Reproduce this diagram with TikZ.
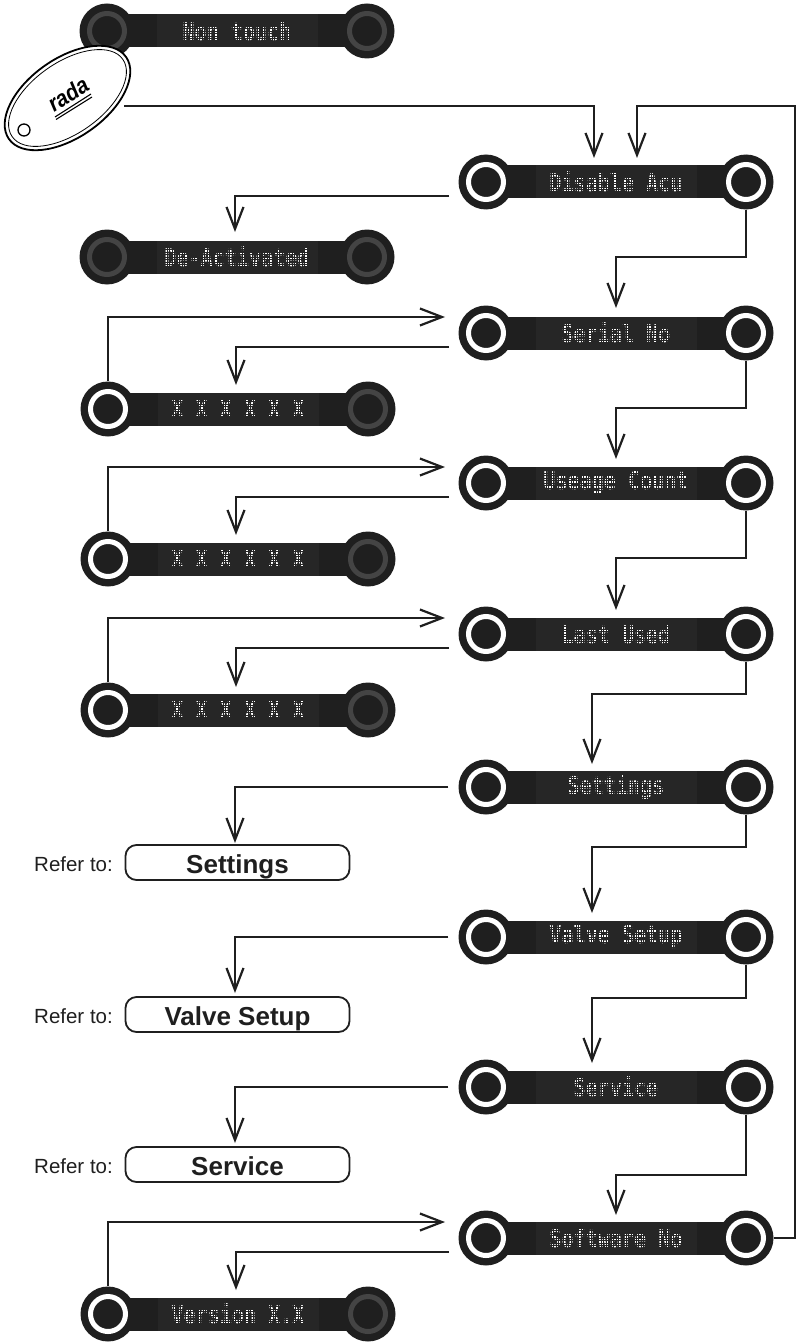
\documentclass[tikz,border=0pt]{standalone}
\usepackage{fontspec}
\setmainfont{Liberation Sans}
\newfontfamily\lcd[FakeStretch=0.82]{DejaVu Sans Mono}
\usetikzlibrary{arrows.meta,shapes.geometric}
\definecolor{dk}{HTML}{1F1F1F}
\definecolor{pn}{HTML}{262626}
\definecolor{off}{HTML}{444444}
\tikzset{
 conn/.style={draw=dk,line width=2.2pt,-{Straight Barb[length=22pt,width=17pt,line width=2.2pt]}},
 hub/.style={circle,fill=dk,minimum size=55pt,inner sep=0pt},
 ringon/.style={circle,fill=dk,draw=white,line width=5pt,minimum size=35pt,inner sep=0pt},
 ringoff/.style={circle,fill=dk,draw=off,line width=5pt,minimum size=35pt,inner sep=0pt},
 panel/.style={fill=pn,minimum width=161pt,minimum height=33pt,inner sep=0pt},
 lcdtext/.style={text=white,font=\lcd\bfseries\fontsize{24.5}{25}\selectfont,inner sep=0pt},
 refbox/.style={draw=dk,line width=1.8pt,rounded corners=11pt,minimum width=224pt,minimum height=35pt,inner sep=0pt},
 reftext/.style={font=\bfseries\fontsize{26}{26}\selectfont,text=dk,inner sep=0pt,anchor=base},
 reflabel/.style={font=\fontsize{20.5}{22}\selectfont,text=dk,anchor=west,inner sep=0pt},
}
% \disp{name}{left hub x}{y}{text}{left ring}{right ring}
\newcommand{\disp}[6]{%
 \fill[dk] (#2,#3-16.5) rectangle (#2+260,#3+16.5);
 \node[hub] (#1-l) at (#2,#3) {};
 \node[hub] (#1-r) at (#2+260,#3) {};
 \node[#5] at (#2,#3) {};
 \node[#6] at (#2+260,#3) {};
 \node[panel] (#1-p) at (#2+130,#3) {};
 \node[lcdtext] (#1-t) at (#2+130,#3) {#4};
 \foreach \k in {-6,...,6} {\draw[pn,line width=0.6pt] (#2+130-78,#3+\k*2.5) -- (#2+130+78,#3+\k*2.5);}
 \foreach \k in {-31,...,31} {\draw[pn,line width=0.6pt] (#2+130+\k*2.5,#3-15) -- (#2+130+\k*2.5,#3+15);}
 \coordinate (#1-in) at (#2-41,#3-16);
 \coordinate (#1-out) at (#2-37,#3+14);
}
\begin{document}
\begin{tikzpicture}[x=1pt,y=-1pt]
\useasboundingbox (0,0) rectangle (796,1343);
% left column
\disp{non}{107}{31}{Non touch}{ringoff}{ringoff}
\disp{dea}{107}{257}{De-Activated}{ringoff}{ringoff}
\disp{vsa}{108}{409}{X X X X X X}{ringon}{ringoff}
\disp{vsb}{108}{559}{X X X X X X}{ringon}{ringoff}
\disp{vsc}{108}{710}{X X X X X X}{ringon}{ringoff}
\disp{ver}{108}{1314}{Version X.X}{ringon}{ringoff}
% right column
\disp{dis}{486}{182}{Disable Acu}{ringon}{ringon}
\disp{ser}{486}{333}{Serial No}{ringon}{ringon}
\disp{use}{486}{483}{Useage Count}{ringon}{ringon}
\disp{las}{486}{634}{Last Used}{ringon}{ringon}
\disp{set}{486}{787}{Settings}{ringon}{ringon}
\disp{val}{486}{937}{Valve Setup}{ringon}{ringon}
\disp{svc}{486}{1087}{Service}{ringon}{ringon}
\disp{sof}{486}{1238}{Software No}{ringon}{ringon}
% fob
\node[ellipse,rotate=35,draw=black,fill=white,line width=1.8pt,minimum width=143pt,minimum height=79pt,inner sep=0pt] (fob) at (67.5,98) {};
\node[ellipse,rotate=35,draw=black,line width=0.8pt,minimum width=135pt,minimum height=71pt,inner sep=0pt] (fobin) at (67.5,98) {};
\node[circle,draw=black,line width=1.3pt,minimum size=12pt,inner sep=0pt] (hole) at (24,130) {};
\node[rotate=33,inner sep=0pt,font=\bfseries\itshape\fontsize{23}{23}\selectfont,text=black,xscale=0.9] (rada) at (68,94) {rada};
\coordinate (ua) at (55,117); \coordinate (ub) at (91,94);
\coordinate (uc) at (56,119.5); \coordinate (ud) at (92,97);
\draw[black,line width=1.1pt] (ua) -- (ub) (uc) -- (ud);
% reference boxes
\node[refbox] (rs) at (237.5,862.5) {};
\node[refbox] (rv) at (237.5,1014.5) {};
\node[refbox] (rc) at (237.5,1164.5) {};
\node[reftext] (rst) at (237.5,873) {Settings};
\node[reftext] (rvt) at (237.5,1025) {Valve Setup};
\node[reftext] (rct) at (237.5,1175) {Service};
\node[reflabel] (l1) at (34,864) {Refer to:};
\node[reflabel] (l2) at (34,1016) {Refer to:};
\node[reflabel] (l3) at (34,1166) {Refer to:};
% connectors
\coordinate (fobout) at (124,106);
\coordinate (tipa) at (594,158);
\coordinate (tipb) at (637,158);
\coordinate (loop) at (795,106);
\draw[conn] (fobout) -| (tipa);
\draw[conn] (sof-r.east) -| (loop) -| (tipb);
\coordinate (t1) at (235,232); \draw[conn] (dis-out) -| (t1);
\newcommand{\nextstep}[5]{\coordinate (#1-b) at (#3,#4); \coordinate (#1-e) at (#3,#5); \draw[conn] (#1-r.south) |- (#1-b) -- (#1-e);}
\nextstep{dis}{ser}{616}{257}{308}
\nextstep{ser}{use}{616}{408}{459}
\nextstep{use}{las}{616}{558}{610}
\nextstep{las}{set}{592}{694}{764}
\nextstep{set}{val}{592}{847}{913}
\nextstep{val}{svc}{592}{998}{1063}
\nextstep{svc}{sof}{616}{1175}{1215}
\newcommand{\branch}[3]{\draw[conn] (#2-l.north) |- (#1-in); \coordinate (#1-d) at (236,#3); \draw[conn] (#1-out) -| (#1-d);}
\branch{ser}{vsa}{385}
\branch{use}{vsb}{535}
\branch{las}{vsc}{687}
\branch{sof}{ver}{1290}
\coordinate (t2) at (235,843); \draw[conn] (set-l.west) ++(-10,0) -| (t2);
\coordinate (t3) at (235,993); \draw[conn] (val-l.west) ++(-10,0) -| (t3);
\coordinate (t4) at (235,1143); \draw[conn] (svc-l.west) ++(-10,0) -| (t4);
\end{tikzpicture}
\end{document}
